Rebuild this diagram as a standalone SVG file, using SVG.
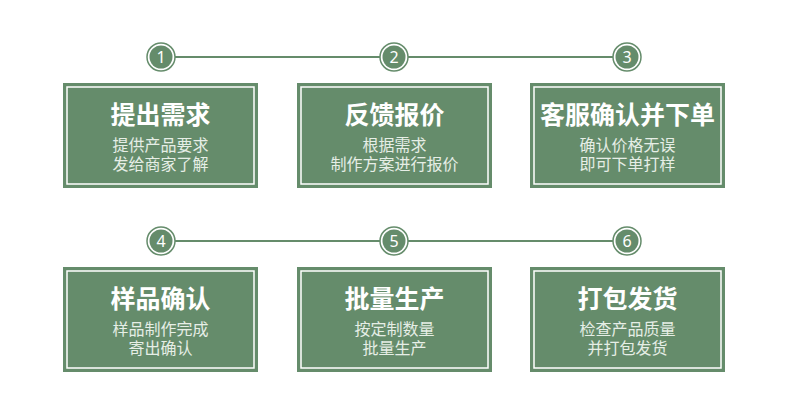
<svg xmlns="http://www.w3.org/2000/svg" width="790" height="406" viewBox="0 0 790 406">
<style>
.box{fill:#658c6b}
.inner{fill:none;stroke:#ffffff;stroke-width:1.5}
.ring{fill:#ffffff;stroke:#658c6b;stroke-width:1.5}
.dot{fill:#658c6b}
.num{fill:#ffffff;font-family:"Noto Sans","DejaVu Sans",sans-serif;font-size:16px;text-anchor:middle;dominant-baseline:central}
.title{fill:#ffffff;font-family:"Noto Sans CJK SC",sans-serif;font-size:25px;font-weight:bold;text-anchor:middle;dominant-baseline:central}
.sub{fill:#e6eee6;font-family:"Noto Sans CJK SC",sans-serif;font-size:16px;text-anchor:middle;dominant-baseline:central}
.line{stroke:#658c6b;stroke-width:2;fill:none}
</style>
<rect width="790" height="406" fill="#ffffff"/>
<g id="connectors">
<line class="line" x1="175" y1="57" x2="380" y2="57"/>
<line class="line" x1="408" y1="57" x2="613" y2="57"/>
<line class="line" x1="175" y1="241" x2="380" y2="241"/>
<line class="line" x1="408" y1="241" x2="613" y2="241"/>
</g>
<g id="step1">
<circle class="ring" cx="161" cy="57" r="14"/><circle class="dot" cx="161" cy="57" r="11.5"/><text class="num" x="161" y="57">1</text>
<rect class="box" x="63" y="83" width="195" height="105"/><rect class="inner" x="67" y="87" width="187" height="97"/>
<text class="title" x="160.5" y="113">提出需求</text>
<text class="sub" x="160.5" y="144"><tspan x="160.5">提供产品要求</tspan><tspan x="160.5" dy="18.5">发给商家了解</tspan></text>
</g>
<g id="step2">
<circle class="ring" cx="394" cy="57" r="14"/><circle class="dot" cx="394" cy="57" r="11.5"/><text class="num" x="394" y="57">2</text>
<rect class="box" x="297" y="83" width="195" height="105"/><rect class="inner" x="301" y="87" width="187" height="97"/>
<text class="title" x="394.5" y="113">反馈报价</text>
<text class="sub" x="394.5" y="144"><tspan x="394.5">根据需求</tspan><tspan x="394.5" dy="18.5">制作方案进行报价</tspan></text>
</g>
<g id="step3">
<circle class="ring" cx="627" cy="57" r="14"/><circle class="dot" cx="627" cy="57" r="11.5"/><text class="num" x="627" y="57">3</text>
<rect class="box" x="530" y="83" width="195" height="105"/><rect class="inner" x="534" y="87" width="187" height="97"/>
<text class="title" x="627.5" y="113">客服确认并下单</text>
<text class="sub" x="627.5" y="144"><tspan x="627.5">确认价格无误</tspan><tspan x="627.5" dy="18.5">即可下单打样</tspan></text>
</g>
<g id="step4">
<circle class="ring" cx="161" cy="241" r="14"/><circle class="dot" cx="161" cy="241" r="11.5"/><text class="num" x="161" y="241">4</text>
<rect class="box" x="63" y="267" width="195" height="105"/><rect class="inner" x="67" y="271" width="187" height="97"/>
<text class="title" x="160.5" y="297">样品确认</text>
<text class="sub" x="160.5" y="328"><tspan x="160.5">样品制作完成</tspan><tspan x="160.5" dy="18.5">寄出确认</tspan></text>
</g>
<g id="step5">
<circle class="ring" cx="394" cy="241" r="14"/><circle class="dot" cx="394" cy="241" r="11.5"/><text class="num" x="394" y="241">5</text>
<rect class="box" x="297" y="267" width="195" height="105"/><rect class="inner" x="301" y="271" width="187" height="97"/>
<text class="title" x="394.5" y="297">批量生产</text>
<text class="sub" x="394.5" y="328"><tspan x="394.5">按定制数量</tspan><tspan x="394.5" dy="18.5">批量生产</tspan></text>
</g>
<g id="step6">
<circle class="ring" cx="627" cy="241" r="14"/><circle class="dot" cx="627" cy="241" r="11.5"/><text class="num" x="627" y="241">6</text>
<rect class="box" x="530" y="267" width="195" height="105"/><rect class="inner" x="534" y="271" width="187" height="97"/>
<text class="title" x="627.5" y="297">打包发货</text>
<text class="sub" x="627.5" y="328"><tspan x="627.5">检查产品质量</tspan><tspan x="627.5" dy="18.5">并打包发货</tspan></text>
</g>
</svg>
